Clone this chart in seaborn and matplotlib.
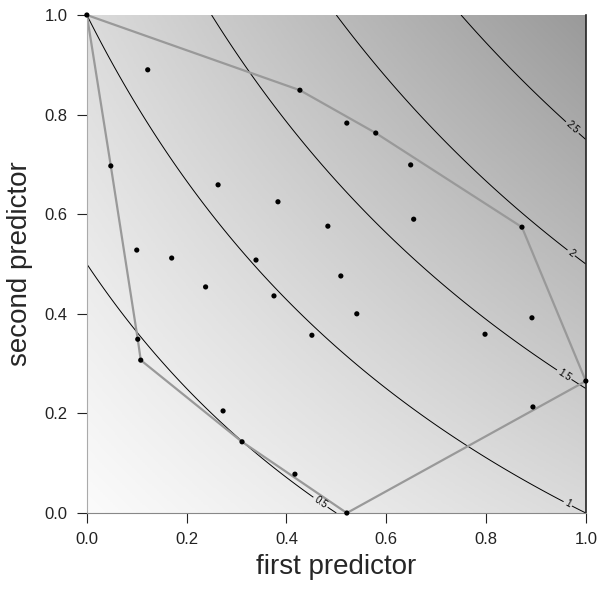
import numpy as np
import matplotlib
matplotlib.use("Agg")
import matplotlib.pyplot as plt
from matplotlib.colors import LinearSegmentedColormap
import seaborn as sns
import pandas as pd

# observed points (first, second predictor)
first = [0.000, 0.122, 0.427, 0.521, 0.579, 0.649, 0.872, 0.655, 0.483, 0.509,
         0.048, 0.263, 0.383, 0.100, 0.170, 0.339, 0.238, 0.375, 0.451, 0.541,
         0.102, 0.108, 0.273, 0.311, 0.417, 0.521, 0.798, 0.892, 1.000, 0.894]
second = [1.000, 0.890, 0.849, 0.783, 0.763, 0.699, 0.574, 0.590, 0.576, 0.476,
          0.697, 0.659, 0.625, 0.528, 0.512, 0.508, 0.454, 0.436, 0.357, 0.400,
          0.349, 0.307, 0.205, 0.143, 0.078, 0.000, 0.359, 0.392, 0.265, 0.213]

# indices of points on the hull outline, in drawing order
hull_idx = [0, 2, 4, 6, 28, 25, 23, 21, 20, 10, 0]

# fitted surface: z = b1*x1 + b2*x2 + b12*x1*x2
b1, b2, b12 = 1.0, 1.0, 1.0
levels = [0.5, 1, 1.5, 2, 2.5]
label_pos = [(0.467, 0.02), (0.962, 0.015), (0.955, 0.275), (0.965, 0.515), (0.965, 0.765)]

sns.set_style("ticks")
plt.rcParams['font.family'] = ['Liberation Sans', 'DejaVu Sans']

fig = plt.figure(figsize=(5.99, 5.89), dpi=100)
ax = fig.add_axes([0.145, 0.129, 0.833, 0.8455])

g = np.linspace(0, 1, 300)
X, Y = np.meshgrid(g, g)
Z = b1 * X + b2 * Y + b12 * X * Y

# background shading follows the surface
cmap = LinearSegmentedColormap.from_list("bg", ["#fbfbfb", "#9a9a9a"])
ax.imshow(Z, extent=(0, 1, 0, 1), origin="lower", cmap=cmap, vmin=0, vmax=3,
          aspect="auto", interpolation="bilinear", zorder=0)

cs = ax.contour(X, Y, Z, levels=levels, colors="black", linewidths=0.7, zorder=1)
ax.clabel(cs, fmt=lambda v: f"{v:g}", fontsize=7, inline=True, inline_spacing=2,
          manual=label_pos)

df = pd.DataFrame({"first": first, "second": second})
hull = df.iloc[hull_idx]
ax.plot(hull["first"], hull["second"], color="#999999", lw=1.6, zorder=2)
sns.scatterplot(data=df, x="first", y="second", color="black", s=14,
                edgecolor="none", ax=ax, zorder=3, clip_on=False)

ax.set_xlim(0, 1)
ax.set_ylim(0, 1)
ticks = [0.0, 0.2, 0.4, 0.6, 0.8, 1.0]
ax.set_xticks(ticks)
ax.set_yticks(ticks)
ax.set_xticklabels([f"{t:.1f}" for t in ticks])
ax.set_yticklabels([f"{t:.1f}" for t in ticks])
ax.tick_params(labelsize=12, length=7, width=0.8, colors="#222222", pad=7)
ax.set_xlabel("first predictor", fontsize=20, labelpad=5)
ax.set_ylabel("second predictor", fontsize=20, labelpad=8)

ax.spines["top"].set_visible(False)
ax.spines["left"].set_color("#aaaaaa")
ax.spines["bottom"].set_color("#888888")
ax.spines["right"].set_color("#222222")
ax.spines["right"].set_linewidth(1.2)

fig.savefig("out.png", dpi=100)
